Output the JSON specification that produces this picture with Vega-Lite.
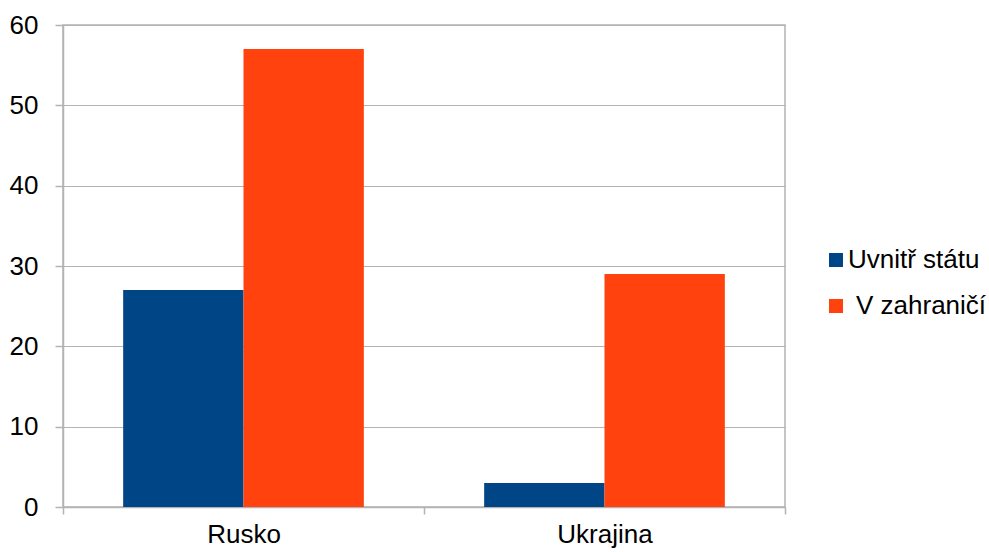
{
  "$schema": "https://vega.github.io/schema/vega-lite/v6.json",
  "autosize": "none",
  "width": 722,
  "height": 482,
  "padding": {"left": 63, "top": 25, "right": 204, "bottom": 45},
  "background": "white",
  "config": {
    "font": "Liberation Sans",
    "view": {"stroke": "#b3b3b3", "strokeWidth": 1.5},
    "axis": {
      "labelFont": "Liberation Sans",
      "labelColor": "black",
      "domainColor": "#b3b3b3",
      "domainWidth": 1.5,
      "tickColor": "#b3b3b3",
      "tickWidth": 1.5,
      "gridColor": "#b3b3b3",
      "gridWidth": 1.2,
      "gridOpacity": 1
    }
  },
  "data": {
    "values": [
      {"zeme": "Rusko", "misto": "Uvnitř státu", "pocet": 27},
      {"zeme": "Rusko", "misto": "V zahraničí", "pocet": 57},
      {"zeme": "Ukrajina", "misto": "Uvnitř státu", "pocet": 3},
      {"zeme": "Ukrajina", "misto": "V zahraničí", "pocet": 29}
    ]
  },
  "mark": {"type": "bar"},
  "encoding": {
    "x": {
      "field": "zeme",
      "type": "nominal",
      "title": null,
      "scale": {"paddingInner": 0, "paddingOuter": 0},
      "axis": {
        "labelAngle": 0,
        "labelFontSize": 26,
        "tickBand": "extent",
        "tickSize": 7,
        "labelPadding": 7,
        "grid": false
      }
    },
    "xOffset": {"field": "misto", "type": "nominal", "scale": {"paddingInner": 0, "paddingOuter": 0.5}},
    "y": {
      "field": "pocet",
      "type": "quantitative",
      "title": null,
      "scale": {"domain": [0, 60], "nice": false},
      "axis": {
        "values": [0, 10, 20, 30, 40, 50, 60],
        "labelFontSize": 26,
        "tickSize": 8,
        "labelPadding": 17,
        "grid": true
      }
    },
    "color": {
      "field": "misto",
      "type": "nominal",
      "title": null,
      "scale": {"domain": ["Uvnitř státu", "V zahraničí"], "range": ["#004586", "#ff420e"]},
      "legend": {
        "orient": "none",
        "legendX": 760,
        "legendY": 222,
        "padding": 0,
        "symbolType": "square",
        "symbolSize": 196,
        "symbolStrokeWidth": 0,
        "symbolOpacity": 1,
        "labelFontSize": 26,
        "labelColor": "black",
        "labelOffset": -1,
        "labelLimit": 300,
        "rowPadding": 20,
        "encode": {
          "labels": {
            "update": {
              "dx": {"signal": "datum.value == 'V zahraničí' ? 8 : 0"}
            }
          }
        }
      }
    }
  }
}
